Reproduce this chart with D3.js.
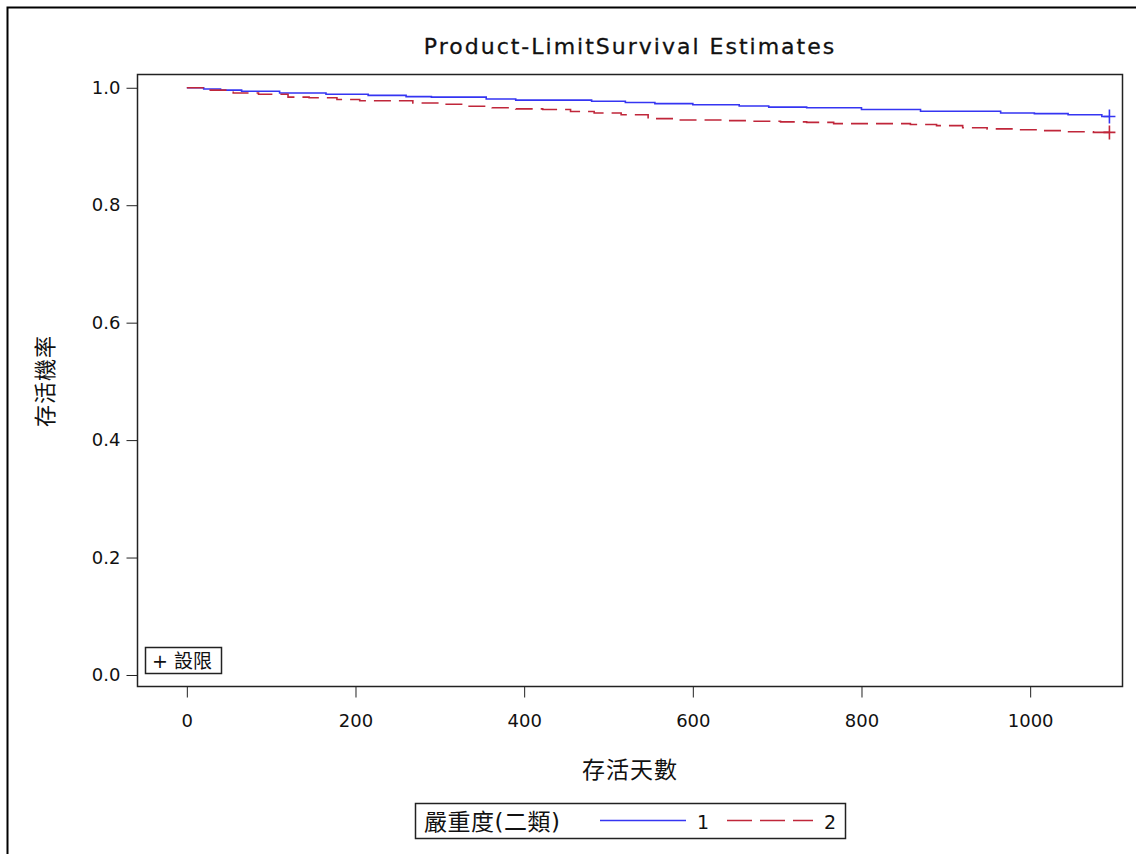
<!DOCTYPE html>
<html>
<head>
<meta charset="utf-8">
<script src="https://cdn.jsdelivr.net/npm/d3@7"></script>
<style>
body { margin: 0; background: #fff; }
text { font-family: "DejaVu Sans", "Noto Sans CJK TC", sans-serif; }
</style>
</head>
<body>
<div id="chart"></div>
<script>
var W = 1136, H = 854;

// data: [day, survival]
var group1 = [[0,1.0],[20,0.998],[40,0.996],[65,0.994],[110,0.991],[165,0.989],[215,0.987],
              [260,0.985],[290,0.984],[355,0.981],[390,0.979],[480,0.977],[520,0.975],[555,0.973],
              [600,0.971],[655,0.969],[690,0.967],[735,0.966],[800,0.963],[870,0.960],[965,0.957],
              [1005,0.956],[1045,0.954],[1085,0.951],[1094,0.951]];
var group2 = [[0,1.0],[25,0.996],[55,0.991],[85,0.989],[120,0.984],[145,0.983],[178,0.980],
              [205,0.978],[268,0.974],[300,0.972],[330,0.9685],[362,0.966],[390,0.964],[422,0.963],
              [455,0.9595],[483,0.957],[515,0.954],[547,0.9475],[577,0.945],[641,0.944],[671,0.943],
              [704,0.942],[735,0.941],[767,0.939],[830,0.939],[858,0.9375],[889,0.9355],[920,0.932],
              [949,0.930],[980,0.9285],[1010,0.927],[1039,0.925],[1075,0.924],[1094,0.924]];
var censor1 = [[1094,0.951]];
var censor2 = [[1094,0.924]];
var xTicks = [0,200,400,600,800,1000];
var yTicks = [0,0.2,0.4,0.6,0.8,1.0];
var groups = ["1","2"];
var colors = ["#3535f2","#c0263a"];

var svg = d3.select("#chart").append("svg")
            .attr("width", W)
            .attr("height", H);

// outer frame (open to the right/bottom)
svg.append("path")
    .attr("d", "M7.5," + H + "V7.5H" + W)
    .attr("fill", "none")
    .attr("stroke", "#000")
    .attr("stroke-width", 2);

var pLeft = 137.5, pRight = 1122.5, pTop = 74.5, pBottom = 686.5;

var x = d3.scaleLinear().domain([-58.5, 1109.5]).range([pLeft, pRight]);
var y = d3.scaleLinear().domain([-0.0196, 1.0226]).range([pBottom, pTop]);

svg.append("text")
    .attr("x", 630)
    .attr("y", 54)
    .attr("text-anchor", "middle")
    .attr("font-size", "22px")
    .attr("letter-spacing", "2px")
    .attr("fill", "#111")
    .attr("stroke", "#111")
    .attr("stroke-width", 0.3)
    .text("Product-LimitSurvival Estimates");

// axes
var xAxis = svg.append("g")
    .attr("transform", "translate(0," + pBottom + ")")
    .call(d3.axisBottom(x).tickValues(xTicks).tickSize(11).tickPadding(17).tickFormat(d3.format("d")));
var yAxis = svg.append("g")
    .attr("transform", "translate(" + pLeft + ",0)")
    .call(d3.axisLeft(y).tickValues(yTicks).tickSize(11).tickPadding(6).tickFormat(d3.format(".1f")));
[xAxis, yAxis].forEach(function(g){
    g.select(".domain").remove();
    g.selectAll("line").attr("stroke", "#222");
    g.selectAll("text").attr("font-size", "18px").attr("fill", "#111");
});

svg.append("rect")
    .attr("x", pLeft)
    .attr("y", pTop)
    .attr("width", pRight-pLeft)
    .attr("height", pBottom-pTop)
    .attr("fill", "none")
    .attr("stroke", "#222")
    .attr("stroke-width", 1.5);

// curves
var line = d3.line().curve(d3.curveStepAfter)
             .x(function(d){ return x(d[0]); })
             .y(function(d){ return y(d[1]); });

svg.append("path")
    .datum(group1)
    .attr("d", line)
    .attr("fill", "none")
    .attr("stroke", colors[0])
    .attr("stroke-width", 1.6);

svg.append("path")
    .datum(group2)
    .attr("d", line)
    .attr("fill", "none")
    .attr("stroke", colors[1])
    .attr("stroke-width", 1.6)
    .attr("stroke-dasharray", "17,8");

[censor1, censor2].forEach(function(c, i){
    c.forEach(function(d){
        var cx = x(d[0]), cy = y(d[1]);
        svg.append("path")
            .attr("d", "M" + (cx-6) + "," + cy + "H" + (cx+6) + "M" + cx + "," + (cy-7) + "V" + (cy+7))
            .attr("stroke", colors[i])
            .attr("stroke-width", 1.6);
    });
});

// censored inset
svg.append("rect")
    .attr("x", 145.5).attr("y", 647.5)
    .attr("width", 76).attr("height", 26)
    .attr("fill", "#fff")
    .attr("stroke", "#222")
    .attr("stroke-width", 1.5);
svg.append("text")
    .attr("x", 152).attr("y", 668)
    .attr("font-size", "19px")
    .attr("fill", "#111")
    .text("+ 設限");

// axis labels
svg.append("text")
    .attr("x", 630).attr("y", 778)
    .attr("text-anchor", "middle")
    .attr("font-size", "23px")
    .attr("letter-spacing", "1px")
    .attr("fill", "#111")
    .text("存活天數");
svg.append("text")
    .attr("transform", "translate(53,381) rotate(-90)")
    .attr("text-anchor", "middle")
    .attr("font-size", "22px")
    .attr("letter-spacing", "1px")
    .attr("fill", "#111")
    .text("存活機率");

// legend
svg.append("rect")
    .attr("x", 415.5).attr("y", 803.5)
    .attr("width", 430).attr("height", 35)
    .attr("fill", "#fff")
    .attr("stroke", "#222")
    .attr("stroke-width", 1.5);
svg.append("text")
    .attr("x", 424).attr("y", 830)
    .attr("font-size", "23px")
    .attr("letter-spacing", "0.5px")
    .attr("fill", "#111")
    .text("嚴重度(二類)");

var legX = [600, 727];
groups.forEach(function(g, i){
    svg.append("line")
        .attr("x1", legX[i]).attr("x2", legX[i]+86)
        .attr("y1", 820.5).attr("y2", 820.5)
        .attr("stroke", colors[i])
        .attr("stroke-width", 1.5)
        .attr("stroke-dasharray", i === 1 ? "25,8,25,8,25,8,1,8" : null);
    svg.append("text")
        .attr("x", legX[i]+97).attr("y", 829)
        .attr("font-size", "19px")
        .attr("fill", "#111")
        .text(g);
});
</script>
</body>
</html>
